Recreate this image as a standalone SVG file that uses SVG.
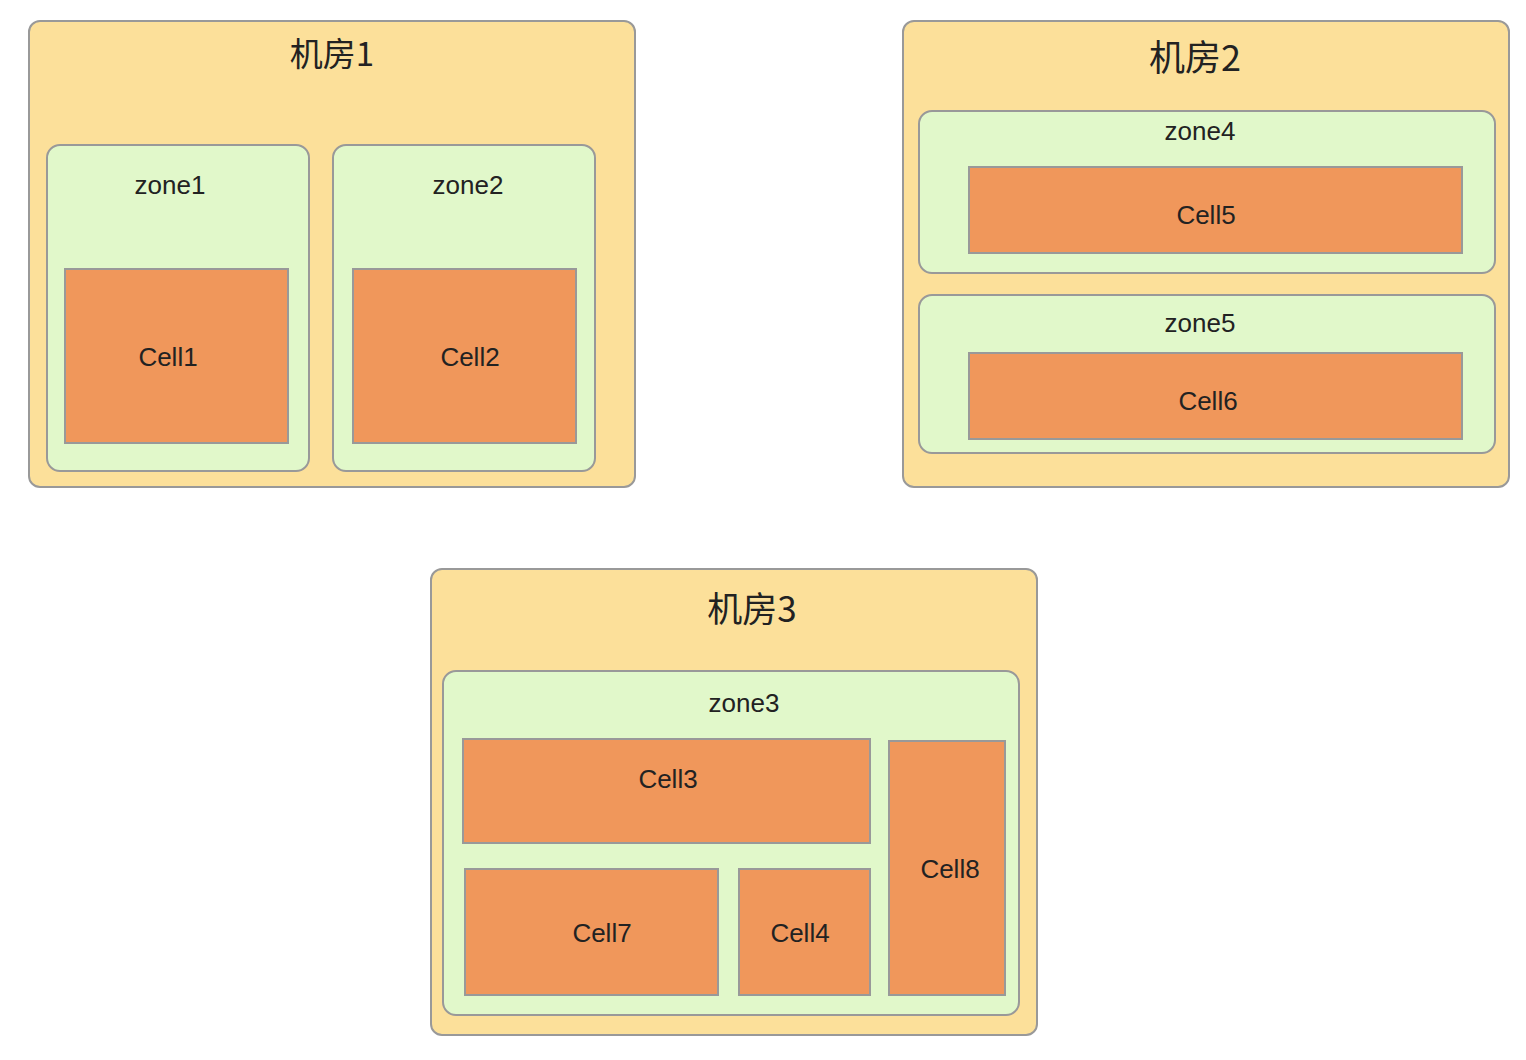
<svg xmlns="http://www.w3.org/2000/svg" width="1526" height="1060" viewBox="0 0 1526 1060">
<style>
.room{fill:#FCE09A;stroke:#999;stroke-width:2}
.zone{fill:#E1F8CA;stroke:#999;stroke-width:2}
.cell{fill:#F0975B;stroke:#999;stroke-width:2}
text{font-family:"Liberation Sans","Noto Sans CJK SC",sans-serif;fill:#222;text-anchor:middle}
.rt{font-family:"Noto Sans CJK SC","Liberation Sans",sans-serif;font-size:33px}
.zt{font-size:26px}
.ct{font-size:26px}
</style>
<rect width="1526" height="1060" fill="#fff"/>
<g id="room1">
<rect class="room" x="29" y="21" width="606" height="466" rx="11"/>
<text class="rt" x="332" y="66">机房1</text>
</g>
<g id="zone1">
<rect class="zone" x="47" y="145" width="262" height="326" rx="13"/>
<text class="zt" x="170" y="194">zone1</text>
</g>
<g id="cell1">
<rect class="cell" x="65" y="269" width="223" height="174"/>
<text class="ct" x="168" y="366">Cell1</text>
</g>
<g id="zone2">
<rect class="zone" x="333" y="145" width="262" height="326" rx="13"/>
<text class="zt" x="468" y="194">zone2</text>
</g>
<g id="cell2">
<rect class="cell" x="353" y="269" width="223" height="174"/>
<text class="ct" x="470" y="366">Cell2</text>
</g>
<g id="room2">
<rect class="room" x="903" y="21" width="606" height="466" rx="11"/>
<text class="rt" x="1195" y="71" style="font-size:36px">机房2</text>
</g>
<g id="zone4">
<rect class="zone" x="919" y="111" width="576" height="162" rx="13"/>
<text class="zt" x="1200" y="140">zone4</text>
</g>
<g id="cell5">
<rect class="cell" x="969" y="167" width="493" height="86"/>
<text class="ct" x="1206" y="224">Cell5</text>
</g>
<g id="zone5">
<rect class="zone" x="919" y="295" width="576" height="158" rx="13"/>
<text class="zt" x="1200" y="332">zone5</text>
</g>
<g id="cell6">
<rect class="cell" x="969" y="353" width="493" height="86"/>
<text class="ct" x="1208" y="410">Cell6</text>
</g>
<g id="room3">
<rect class="room" x="431" y="569" width="606" height="466" rx="11"/>
<text class="rt" x="752" y="622" style="font-size:35px">机房3</text>
</g>
<g id="zone3">
<rect class="zone" x="443" y="671" width="576" height="344" rx="13"/>
<text class="zt" x="744" y="712">zone3</text>
</g>
<g id="cell3">
<rect class="cell" x="463" y="739" width="407" height="104"/>
<text class="ct" x="668" y="788">Cell3</text>
</g>
<g id="cell7">
<rect class="cell" x="465" y="869" width="253" height="126"/>
<text class="ct" x="602" y="942">Cell7</text>
</g>
<g id="cell4">
<rect class="cell" x="739" y="869" width="131" height="126"/>
<text class="ct" x="800" y="942">Cell4</text>
</g>
<g id="cell8">
<rect class="cell" x="889" y="741" width="116" height="254"/>
<text class="ct" x="950" y="878">Cell8</text>
</g>
<g id="connectors"/>
</svg>
